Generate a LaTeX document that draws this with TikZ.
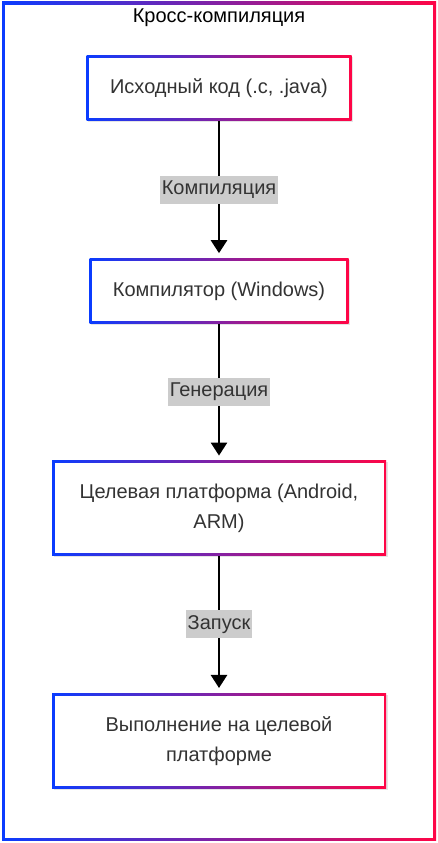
\documentclass[tikz,border=0pt]{standalone}
\usepackage{fontspec}
\setmainfont{Liberation Sans}
\usetikzlibrary{arrows.meta,positioning,shadows}

\definecolor{gradblue}{RGB}{10,60,255}
\definecolor{gradred}{RGB}{255,5,70}
\definecolor{labelgray}{RGB}{204,204,204}
\definecolor{textdark}{RGB}{51,51,51}

\tikzset{
  gradborder/.style={path picture={
      \shade[left color=gradblue,right color=gradred]
        (path picture bounding box.south west) rectangle (path picture bounding box.north east);
      \fill[white] ([shift={(#1,#1)}]path picture bounding box.south west)
        rectangle ([shift={(-#1,-#1)}]path picture bounding box.north east);}},
  stepbox/.style={gradborder=2.5pt, minimum height=65pt, inner sep=0pt, align=center,
    text=textdark, font=\fontsize{20}{30}\selectfont,
    drop shadow={shadow xshift=1.5pt, shadow yshift=-1.5pt, opacity=0.2, fill=black!50}},
  edgelabel/.style={fill=labelgray, text=textdark, inner xsep=2pt, inner ysep=0pt,
    minimum height=28pt, font=\fontsize{20}{24}\selectfont},
  flow/.style={line width=2.5pt, -{Triangle[width=16pt,length=13pt]}, shorten >=5pt}
}

\begin{document}
\begin{tikzpicture}
  \useasboundingbox (0,0) rectangle (438pt,843pt);
  \node (frame) [gradborder=3pt, minimum width=434pt, minimum height=839pt, inner sep=0pt] at (219pt,421.5pt) {};
  \node (title) [font=\fontsize{20}{24}\selectfont] at ([yshift=-16pt]frame.north) {Кросс-компиляция};

  % stages
  \node (src) [stepbox, minimum width=265pt, below=54pt of frame.north] {Исходный код (.c, .java)};
  \node (comp) [stepbox, minimum width=259pt, below=137pt of src] {Компилятор (Windows)};
  \node (target) [stepbox, minimum width=334pt, minimum height=95pt, below=137pt of comp]
    {Целевая платформа (Android,\\ARM)};
  \node (run) [stepbox, minimum width=334pt, minimum height=95pt, below=137pt of target]
    {Выполнение на целевой\\платформе};

  % transitions
  \draw[flow] (src) -- node[edgelabel] {Компиляция} (comp);
  \draw[flow] (comp) -- node[edgelabel] {Генерация} (target);
  \draw[flow] (target) -- node[edgelabel] {Запуск} (run);
\end{tikzpicture}
\end{document}
